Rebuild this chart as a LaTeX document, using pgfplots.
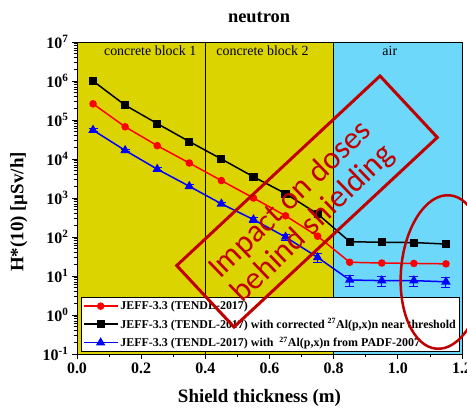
\documentclass[border=0pt]{standalone}
\usepackage{fontspec}
\setmainfont{Liberation Serif}
\newfontfamily\carlito{Carlito}
\usepackage{pgfplots}
\pgfplotsset{compat=1.18}
\definecolor{bandyellow}{RGB}{220,212,0}
\definecolor{bandblue}{RGB}{110,216,250}
\definecolor{annot}{RGB}{192,0,0}
\begin{document}
\begin{tikzpicture}
\useasboundingbox (0bp,0bp) rectangle (467bp,410bp);
\begin{axis}[
  at={(77bp,56bp)}, anchor=south west,
  scale only axis, width=385bp, height=312bp,
  ymode=log, xmin=0, xmax=1.2, ymin=1e-1, ymax=1e7,
  axis on top,
  axis line style={line width=0.8bp},
  tick align=outside, xtick pos=left, ytick pos=left,
  major tick length=5bp, minor tick length=3bp,
  every tick/.style={black, line width=0.8bp},
  xtick={0,0.2,0.4,0.6,0.8,1.0,1.2},
  xticklabels={0.0,0.2,0.4,0.6,0.8,1.0,1.2},
  minor xtick={0.1,0.3,0.5,0.7,0.9,1.1},
  ytick={1e-1,1,1e1,1e2,1e3,1e4,1e5,1e6,1e7},
  yticklabels={10\textsuperscript{-1},10\textsuperscript{0},10\textsuperscript{1},10\textsuperscript{2},10\textsuperscript{3},10\textsuperscript{4},10\textsuperscript{5},10\textsuperscript{6},10\textsuperscript{7}},
  tick label style={font=\bfseries\fontsize{16}{18}\selectfont},
  xlabel={Shield thickness (m)},
  ylabel={H*(10) [µSv/h]},
  label style={font=\bfseries\fontsize{19}{22}\selectfont},
  xlabel style={at={(axis description cs:0.474,-0.141)}, anchor=center},
  ylabel style={at={(axis description cs:-0.151,0.455)}, anchor=center},
  title={neutron},
  every axis title shift=0pt,
  title style={at={(axis description cs:0.473,1.08)}, anchor=center, font=\bfseries\fontsize{18.5}{21}\selectfont},
  legend style={at={(0.0104,0.006)}, anchor=south west, draw=black, line width=0.8bp, fill=white,
    font=\bfseries\fontsize{12}{14}\selectfont, cells={anchor=west}, inner sep=1.5bp, row sep=3.5bp},
  legend image code/.code={\draw[mark repeat=2, mark phase=2] plot coordinates {(0bp,0bp) (17bp,0bp) (34bp,0bp)};},
]
\addplot[fill=bandyellow, draw=none, forget plot] coordinates {(0,1e-1) (0.8,1e-1) (0.8,1e7) (0,1e7)};
\addplot[fill=bandblue, draw=none, forget plot] coordinates {(0.8,1e-1) (1.2,1e-1) (1.2,1e7) (0.8,1e7)};
\addplot[black, line width=0.9bp, forget plot] coordinates {(0.4,1e-1) (0.4,1e7)};
\addplot[black, line width=0.9bp, forget plot] coordinates {(0.8,1e-1) (0.8,1e7)};
\node[font=\fontsize{14}{16}\selectfont, anchor=center] at (axis cs:0.228,5.9e6) {concrete block 1};
\node[font=\fontsize{14}{16}\selectfont, anchor=center] at (axis cs:0.578,5.9e6) {concrete block 2};
\node[font=\fontsize{14}{16}\selectfont, anchor=center] at (axis cs:0.975,5.9e6) {air};

\addplot[red, line width=1.5bp, mark=*, mark size=3bp, mark options={solid}] coordinates {
(0.05,2.6e5) (0.15,6.7e4) (0.25,2.2e4) (0.35,7.9e3) (0.45,2.8e3) (0.55,1.0e3)
(0.65,3.5e2) (0.75,1.05e2) (0.85,22.5) (0.95,21.5) (1.05,21) (1.15,20.5)};
\addlegendentry{JEFF-3.3 (TENDL-2017)}
\addplot[black, line width=1.5bp, mark=square*, mark size=3.3bp, mark options={solid}] coordinates {
(0.05,1.0e6) (0.15,2.4e5) (0.25,8.1e4) (0.35,2.8e4) (0.45,1.0e4) (0.55,3.5e3)
(0.65,1.3e3) (0.75,3.9e2) (0.85,76) (0.95,73) (1.05,72) (1.15,66)};
\addlegendentry{JEFF-3.3 (TENDL-2017) with corrected \textsuperscript{27}Al(p,x)n near threshold}
\addplot[blue, line width=1.5bp, mark=triangle*, mark size=4bp, mark options={solid},
  error bars/.cd, y dir=both, y explicit,
  error bar style={line width=1bp},
  error mark options={rotate=90, mark size=4.5bp, line width=1bp}] coordinates {
(0.05,5.5e4) +- (0,4400)
(0.15,1.66e4) +- (0,1330)
(0.25,5.5e3) +- (0,440)
(0.35,2.0e3) +- (0,200)
(0.45,710) +- (0,71)
(0.55,280) +- (0,42)
(0.65,100) +- (0,18)
(0.75,30) +- (0,7.5)
(0.85,7.9) +- (0,2.4)
(0.95,7.6) +- (0,2.3)
(1.05,7.6) +- (0,2.3)
(1.15,7.1) +- (0,2.1)};
\addlegendentry{JEFF-3.3 (TENDL-2017) with \ \textsuperscript{27}Al(p,x)n from PADF-2007}
\end{axis}
\node[draw=annot, line width=3bp, minimum width=278bp, minimum height=84bp, rotate=43, inner sep=0pt] at (307bp,208.5bp) {};
\node[text=annot, rotate=44, align=center, inner sep=0pt, font=\carlito\fontsize{32}{33}\selectfont] at (302bp,198bp) {Impact on doses\\behind shielding};
\draw[annot, line width=2.5bp, rotate around={-5:(443bp,138bp)}] (443bp,138bp) ellipse [x radius=42bp, y radius=77bp];
\end{tikzpicture}
\end{document}
